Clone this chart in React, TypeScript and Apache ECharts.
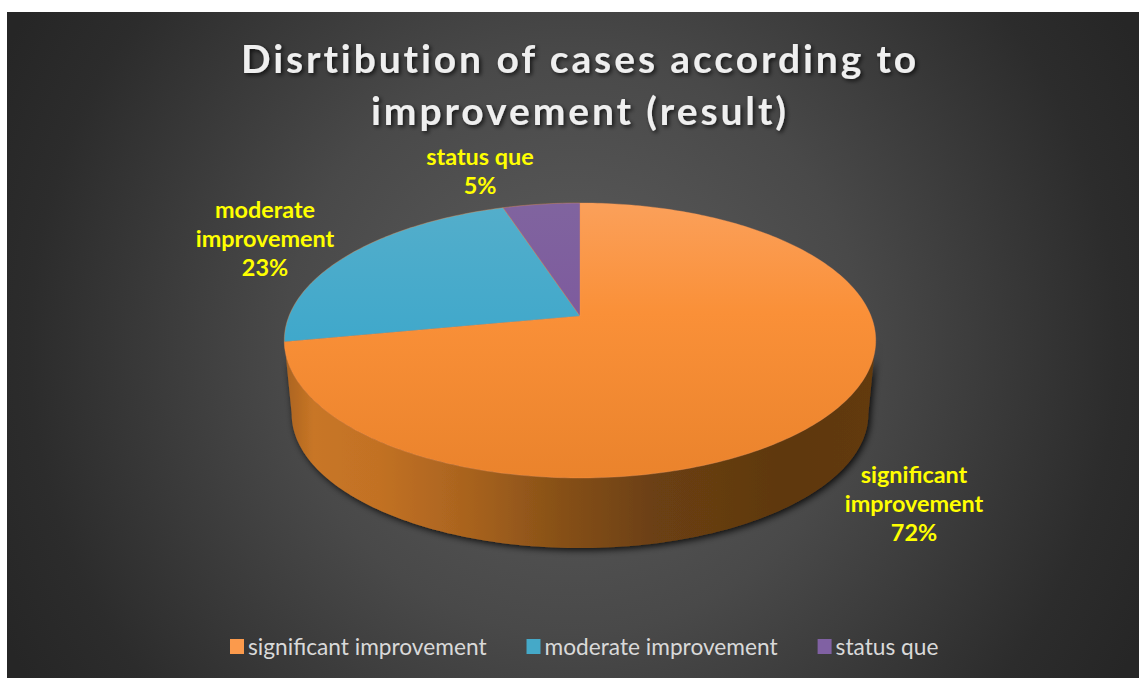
import React, { useEffect, useRef } from "react";
import * as echarts from "echarts";

const categories = ["significant improvement", "moderate improvement", "status que"];
const values = [72, 23, 5];
const labelLines = [["significant", "improvement"], ["moderate", "improvement"], ["status que"]];
const legendColors = ["#fb9a4c", "#45a9c8", "#8061a3"];
const titleText = "Disrtibution of cases according to\nimprovement (result)";

const LABEL_ANCHORS = [[914, 503], [265, 238], [480, 170]];
const FACE_STOPS = [
  [["0", "#fba05a"], ["0.4", "#fa9038"], ["1", "#ea832c"]],
  [["0", "#54aecb"], ["1", "#2ba2cb"]],
  [["0", "#80649f"], ["1", "#7a4d9b"]],
];

// perspective disc: maps a clockwise-from-top angle to the page
const K = 0.178, A = 291, B = 76.9, C = 316, CX = 580;
const WALL_SCALE = 0.975, WALL_DY = 82;
const WALL_FROM = 100.3, WALL_TO = 259.7;
const topPoint = (deg: number) => {
  const t = (deg * Math.PI) / 180;
  const u = Math.sin(t), v = -Math.cos(t);
  const w = 1 - K * v;
  return [CX + (A * u) / w, (B * v + C) / w];
};
const bottomPoint = (deg: number) => {
  const [x, y] = topPoint(deg);
  return [CX + (x - CX) * WALL_SCALE, y * WALL_SCALE + WALL_DY];
};
const range = (a: number, b: number) => {
  const out: number[] = [];
  const n = Math.max(2, Math.ceil(Math.abs(b - a)));
  for (let i = 0; i <= n; i++) out.push(a + ((b - a) * i) / n);
  return out;
};

export default function App() {
  const ref = useRef<HTMLDivElement>(null);
  useEffect(() => {
    document.body.style.margin = "0";
    const chart = echarts.init(ref.current!, null, { renderer: "svg" });
    const total = values.reduce((a, b) => a + b, 0);
    const grad = (stops: string[][]) =>
      new echarts.graphic.LinearGradient(0, 203, 0, 478,
        stops.map(([o, c]) => ({ offset: +o, color: c })), true);
    const wallFill = new echarts.graphic.LinearGradient(284, 0, 876, 0, [
      { offset: 0, color: "#a9621f" },
      { offset: 0.05, color: "#c87626" },
      { offset: 0.16, color: "#c27124" },
      { offset: 0.32, color: "#a7621e" },
      { offset: 0.45, color: "#8a5218" },
      { offset: 0.62, color: "#6c4012" },
      { offset: 0.85, color: "#5e3810" },
      { offset: 1, color: "#633a10" },
    ], true);

    let acc = 0;
    const series = categories.map((name, i) => {
      const startDeg = (acc / total) * 360;
      acc += values[i];
      const endDeg = (acc / total) * 360;
      return {
        type: "custom",
        name,
        coordinateSystem: "none",
        data: [values[i]],
        itemStyle: { color: legendColors[i] },
        z: 3 + i,
        silent: true,
        renderItem: (_p: any, api: any) => {
          const pct = Math.round((api.value(0) / total) * 100);
          const children: any[] = [];
          if (i === 0) {
            const upper = range(WALL_FROM, WALL_TO).map(topPoint);
            const lower = range(WALL_TO, WALL_FROM).map(bottomPoint);
            children.push({
              type: "polygon",
              shape: { points: [...upper, ...lower] },
              style: {
                fill: wallFill,
                shadowColor: "rgba(0,0,0,0.85)",
                shadowBlur: 7,
                shadowOffsetX: 2,
                shadowOffsetY: 2,
              },
            });
          }
          const face = [[CX, C], ...range(startDeg, endDeg).map(topPoint)];
          children.push({
            type: "polygon",
            shape: { points: face },
            style: { fill: grad(FACE_STOPS[i]), stroke: "rgba(250,150,80,0.35)", lineWidth: 1 },
          });
          children.push({
            type: "text",
            style: {
              x: LABEL_ANCHORS[i][0],
              y: LABEL_ANCHORS[i][1],
              text: [...labelLines[i], `${pct}%`].join("\n"),
              fill: "#ffff00",
              font: "bold 23.4px Lato",
              lineHeight: 29,
              align: "center",
              verticalAlign: "middle",
            },
          });
          return { type: "group", children };
        },
      };
    });

    chart.setOption({
      animation: false,
      title: {
        text: titleText,
        left: 575,
        top: 27,
        textAlign: "center",
        textStyle: {
          fontFamily: "Lato",
          fontWeight: "bold",
          fontSize: 39,
          lineHeight: 52,
          color: "#efefef",
          textShadowColor: "rgba(0,0,0,0.7)",
          textShadowBlur: 4,
          textShadowOffsetX: 2,
          textShadowOffsetY: 2,
        },
      },
      legend: {
        data: categories,
        left: 225,
        top: 630,
        icon: "rect",
        itemWidth: 14,
        itemHeight: 15,
        itemGap: 40,
        selectedMode: false,
        textStyle: { fontFamily: "Lato", fontSize: 22.7, color: "#d9d9d9", padding: [0, 0, 0, -1] },
      },
      graphic: [
        {
          type: "rect",
          z: -10,
          silent: true,
          shape: { x: 7, y: 12, width: 1132, height: 666 },
          style: {
            fill: new echarts.graphic.RadialGradient(573, 345, 640, [
              { offset: 0, color: "#5e5e5e" },
              { offset: 0.45, color: "#494949" },
              { offset: 0.85, color: "#2c2c2c" },
              { offset: 1, color: "#262626" },
            ], true),
          },
        },
      ],
      series,
    });

    ref.current!.querySelectorAll("text").forEach((t) => {
      const s = t.textContent || "";
      if (s.startsWith("Disrtibution") || s.startsWith("improvement (result)")) {
        (t as SVGTextElement).style.letterSpacing = "2.9px";
      }
    });
    return () => chart.dispose();
  }, []);
  return <div ref={ref} style={{ width: 1139, height: 678 }} />;
}
